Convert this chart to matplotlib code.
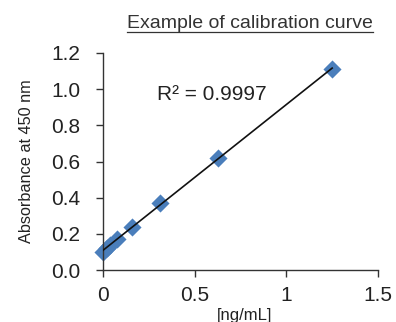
import numpy as np
import matplotlib
matplotlib.use("Agg")
import matplotlib.pyplot as plt
from matplotlib.lines import Line2D

plt.rcParams['font.family'] = ['Liberation Sans', 'DejaVu Sans']

conc = [0.0, 0.0195, 0.039, 0.078, 0.156, 0.3125, 0.625, 1.25]
absorbance = [0.10, 0.12, 0.14, 0.17, 0.24, 0.37, 0.62, 1.11]
x_ticks = [0, 0.5, 1, 1.5]
x_ticklabels = ["0", "0.5", "1", "1.5"]
y_ticks = [0.0, 0.2, 0.4, 0.6, 0.8, 1.0, 1.2]

W, H = 396, 322
fig = plt.figure(figsize=(W / 100, H / 100), dpi=100)
ax = fig.add_axes([103 / W, (H - 270) / H, 275 / W, 217 / H])

slope, intercept = np.polyfit(conc, absorbance, 1)
xf = np.array([min(conc), max(conc)])
ax.scatter(conc, absorbance, marker='D', s=85, color='#4a7ebb', zorder=2, clip_on=False, linewidths=0)
ax.plot(xf, slope * xf + intercept, color='#111111', lw=1.2, zorder=3)

ax.set_xlim(0, 1.5)
ax.set_ylim(0, 1.2)
ax.set_xticks(x_ticks)
ax.set_xticklabels(x_ticklabels)
ax.set_yticks(y_ticks)
ax.set_yticklabels([f"{v:.1f}" for v in y_ticks])
for s in ['top', 'right']:
    ax.spines[s].set_visible(False)
for s in ['left', 'bottom']:
    ax.spines[s].set_color('#333333')
    ax.spines[s].set_linewidth(1.0)
ax.tick_params(axis='both', colors='#333333', labelcolor='#222222', labelsize=15, length=5, width=1.0, direction='out')
ax.tick_params(axis='y', pad=11.5)
ax.tick_params(axis='x', pad=6.5)

fig.text(27 / W, 1 - 161 / H, 'Absorbance at 450 nm', rotation=90, fontsize=11.7,
         color='#222222', ha='center', va='center')
fig.text(245 / W, 1 - 320 / H, '[ng/mL]', fontsize=12, color='#222222', ha='center', va='baseline')

fig.text(157 / W, 1 - 100 / H, 'R² = 0.9997', fontsize=15, color='#222222', va='baseline', ha='left')

t = fig.text(127 / W, 1 - 28 / H, 'Example of calibration curve', fontsize=14, color='#333333',
             ha='left', va='baseline')
fig.canvas.draw()
bb = t.get_window_extent()
inv = fig.transFigure.inverted()
(x0, _), (x1, _) = inv.transform([(bb.x0, bb.y0), (bb.x1, bb.y0)])
uy = 1 - 32 / H
fig.add_artist(Line2D([x0, x1], [uy, uy], transform=fig.transFigure, color='#333333', lw=0.9))

fig.savefig('out.png', dpi=100)
